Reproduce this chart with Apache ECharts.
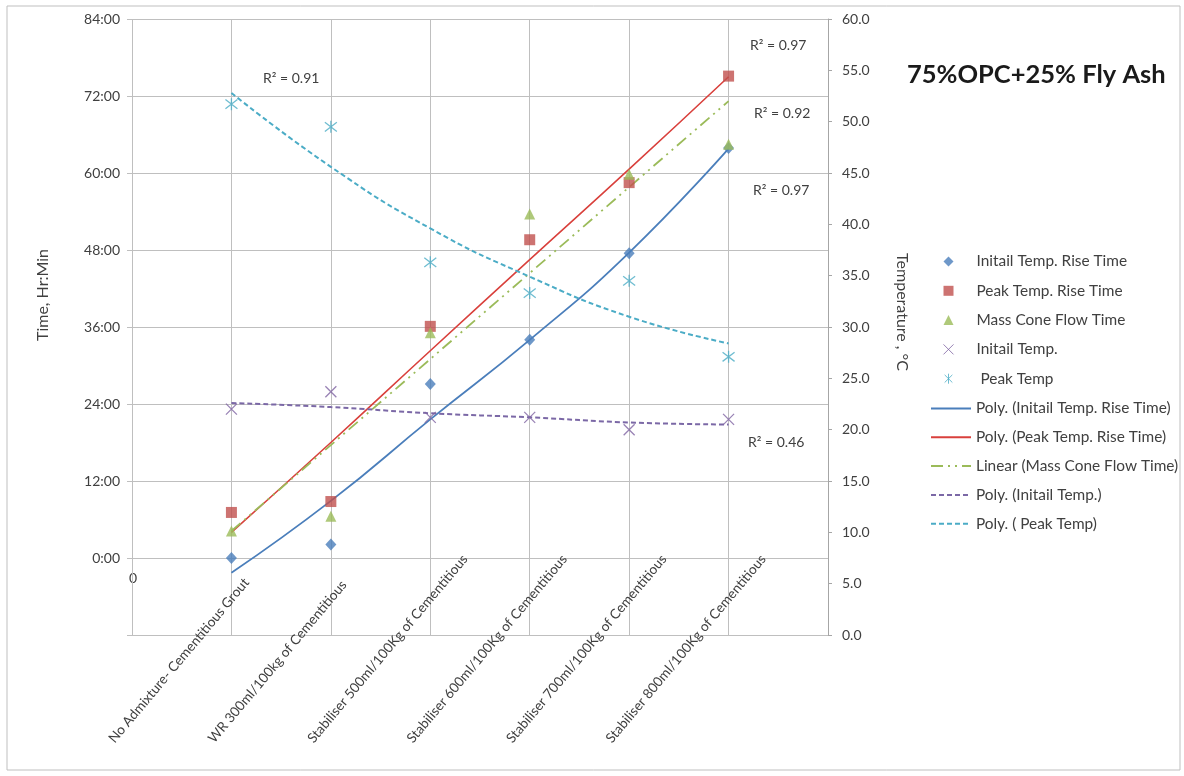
<!DOCTYPE html>
<html><head><meta charset="utf-8">
<script src="https://cdn.jsdelivr.net/npm/echarts@6/dist/echarts.min.js"></script>
<style>html,body{margin:0;padding:0;background:#fff}#c{width:1184px;height:776px}</style>
</head><body><div id="c"></div>
<script>
const categories = ['No Admixture- Cementitious Grout','WR 300ml/100kg of Cementitious','Stabiliser 500ml/100Kg of Cementitious','Stabiliser 600ml/100Kg of Cementitious','Stabiliser 700ml/100Kg of Cementitious','Stabiliser 800ml/100Kg of Cementitious'];
// times in hours (left axis)
const initialRiseTime = [0.0, 2.1, 27.1, 34.0, 47.5, 63.9];
const peakRiseTime = [7.1, 8.8, 36.1, 49.6, 58.5, 75.1];
const massConeFlow = [4.2, 6.5, 35.1, 53.6, 59.8, 64.5];
// temperatures in °C (right axis)
const initialTemp = [22.0, 23.7, 21.2, 21.2, 20.0, 21.0];
const peakTemp = [51.7, 49.5, 36.3, 33.3, 34.5, 27.1];
// trend lines at each category
const trendInitialRise = [-2.3, 8.9, 21.6, 34.0, 47.6, 63.8];
const trendPeakRise = [4.0, 18.0, 32.3, 46.5, 60.6, 75.0];
const trendMassCone = [4.2, 17.6, 31.0, 44.4, 57.8, 71.2];
const trendInitialTemp = [22.6, 22.2, 21.6, 21.2, 20.7, 20.5];
const trendPeakTemp = [52.8, 45.6, 39.6, 34.9, 31.0, 28.4];
// tick labels
const leftTicks = [-12, 0, 12, 24, 36, 48, 60, 72, 84];
const leftTickLabels = ['', '0:00', '12:00', '24:00', '36:00', '48:00', '60:00', '72:00', '84:00'];
const rightTicks = [0,5,10,15,20,25,30,35,40,45,50,55,60];
const rightTickLabels = ['0.0','5.0','10.0','15.0','20.0','25.0','30.0','35.0','40.0','45.0','50.0','55.0','60.0'];
const r2Labels = ['R² = 0.91','R² = 0.97','R² = 0.92','R² = 0.97','R² = 0.46'];

const FONT = 'Lato, "Open Sans", "Liberation Sans", sans-serif';
const TXT = '#404040';
const pad = a => ['-', ...a, '-'];
const xData = ['', ...categories, ''];

const X_PATH = 'path://M0,0L10,10M10,0L0,10';
const STAR_PATH = 'path://M0,0L10,10M10,0L0,10M5,-1.5L5,11.5';

const chart = echarts.init(document.getElementById('c'), null, {renderer: 'canvas'});

const scatterNames = ['Initail Temp. Rise Time','Peak Temp. Rise Time','Mass Cone Flow Time','Initail Temp.',' Peak Temp'];
const lineNames = ['Poly. (Initail Temp. Rise Time)','Poly. (Peak Temp. Rise Time)','Linear (Mass Cone Flow Time)','Poly. (Initail Temp.)','Poly. ( Peak Temp)'];

const option = {
  animation: false,
  backgroundColor: '#fff',
  textStyle: {fontFamily: FONT},
  grid: [
    {left: 132, right: 356, top: 19, bottom: 141},
    {left: 12, right: 476, top: 19, bottom: 141}
  ],
  xAxis: [
    {type: 'category', gridIndex: 0, data: xData, boundaryGap: false,
     axisLine: {show: false}, axisTick: {show: false, interval: 0}, axisLabel: {show: false, interval: 0},
     splitLine: {show: true, interval: 0, lineStyle: {color: '#BFBFBF', width: 1}}},
    {type: 'category', gridIndex: 1, data: xData, boundaryGap: false,
     axisLine: {show: false}, axisTick: {show: false}, splitLine: {show: false},
     axisLabel: {show: true, interval: 0, rotate: 50, align: 'left', verticalAlign: 'middle',
       margin: 106, fontSize: 13.6, fontFamily: FONT, color: TXT}}
  ],
  yAxis: [
    {type: 'value', gridIndex: 0, min: -12, max: 84, interval: 12,
     axisLine: {show: false}, axisTick: {show: true, length: 5, lineStyle: {color: '#BFBFBF'}},
     splitLine: {show: true, lineStyle: {color: '#BFBFBF', width: 1}},
     axisLabel: {fontSize: 14, fontFamily: FONT, color: TXT, margin: 12,
       formatter: v => { const i = leftTicks.indexOf(v); return i >= 0 ? leftTickLabels[i] : ''; }}},
    {type: 'value', gridIndex: 0, position: 'right', min: 0, max: 60, interval: 5,
     axisLine: {show: true, lineStyle: {color: '#A6A6A6'}},
     axisTick: {show: true, length: 4, lineStyle: {color: '#A6A6A6'}},
     splitLine: {show: false},
     axisLabel: {fontSize: 14, fontFamily: FONT, color: TXT, margin: 14,
       formatter: v => { const i = rightTicks.indexOf(v); return i >= 0 ? rightTickLabels[i] : ''; }}},
    {type: 'value', gridIndex: 1, show: false, min: 0, max: 1}
  ],
  legend: [
    {data: scatterNames.map((n, i) => i >= 3 ? {name: n, itemStyle: {borderWidth: 1}} : n),
     orient: 'vertical', left: 938, top: 249, itemWidth: 10, itemHeight: 10, itemGap: 14.3,
     textStyle: {fontSize: 15.4, fontFamily: FONT, color: TXT, padding: [0, 0, 0, 18]}},
    {data: lineNames, orient: 'vertical', left: 925, top: 396, itemWidth: 40, itemHeight: 14, itemGap: 13.8,
     itemStyle: {opacity: 0},
     textStyle: {fontSize: 15.4, fontFamily: FONT, color: TXT}}
  ],
  series: [
    {name: lineNames[0], type: 'line', data: pad(trendInitialRise), xAxisIndex: 0, yAxisIndex: 0,
     smooth: true, symbol: 'none', z: 2, lineStyle: {color: '#4A7EBB', width: 1.8}, itemStyle: {color: '#4A7EBB'}},
    {name: lineNames[1], type: 'line', data: pad(trendPeakRise), xAxisIndex: 0, yAxisIndex: 0,
     smooth: true, symbol: 'none', z: 2, lineStyle: {color: '#D9403C', width: 1.6}, itemStyle: {color: '#D9403C'}},
    {name: lineNames[2], type: 'line', data: pad(trendMassCone), xAxisIndex: 0, yAxisIndex: 0,
     symbol: 'none', z: 2, lineStyle: {color: '#9BBB59', width: 1.8, type: [12, 5, 2, 5, 2, 5]}, itemStyle: {color: '#9BBB59'}},
    {name: lineNames[3], type: 'line', data: pad(trendInitialTemp), xAxisIndex: 0, yAxisIndex: 1,
     smooth: true, symbol: 'none', z: 2, lineStyle: {color: '#7B68A6', width: 2, type: [5, 3]}, itemStyle: {color: '#7B68A6'}},
    {name: lineNames[4], type: 'line', data: pad(trendPeakTemp), xAxisIndex: 0, yAxisIndex: 1,
     smooth: true, symbol: 'none', z: 2, lineStyle: {color: '#4BACC6', width: 2, type: [5, 3]}, itemStyle: {color: '#4BACC6'}},

    {name: scatterNames[0], type: 'scatter', data: pad(initialRiseTime), xAxisIndex: 0, yAxisIndex: 0,
     symbol: 'diamond', symbolSize: [11, 12], z: 5, itemStyle: {color: '#4A7EBB'}},
    {name: scatterNames[1], type: 'scatter', data: pad(peakRiseTime), xAxisIndex: 0, yAxisIndex: 0,
     symbol: 'rect', symbolSize: 11, z: 5, itemStyle: {color: '#C0504D'}},
    {name: scatterNames[2], type: 'scatter', data: pad(massConeFlow), xAxisIndex: 0, yAxisIndex: 0,
     symbol: 'triangle', symbolSize: 11, z: 5, itemStyle: {color: '#9BBB59'}},
    {name: scatterNames[3], type: 'scatter', data: pad(initialTemp), xAxisIndex: 0, yAxisIndex: 1,
     symbol: X_PATH, symbolSize: 11, z: 5, itemStyle: {color: '#8064A2', borderColor: '#8064A2', borderWidth: 1.3}},
    {name: scatterNames[4], type: 'scatter', data: pad(peakTemp), xAxisIndex: 0, yAxisIndex: 1,
     symbol: STAR_PATH, symbolSize: 12, z: 5, itemStyle: {color: '#4BACC6', borderColor: '#4BACC6', borderWidth: 1.3}}
  ],
  graphic: [
    {type: 'rect', shape: {x: 7, y: 6, width: 1173, height: 764}, silent: true, z: -1,
     style: {fill: 'none', stroke: '#BFBFBF', lineWidth: 1}},
    {type: 'text', x: 133, y: 578, style: {text: '0', fontSize: 14, fontFamily: FONT, fill: TXT, align: 'center', verticalAlign: 'middle'}},
    {type: 'text', x: 43, y: 295, rotation: Math.PI / 2,
     style: {text: 'Time, Hr:Min', fontSize: 16, fontFamily: FONT, fill: TXT, align: 'center', verticalAlign: 'middle'}},
    {type: 'text', x: 902, y: 312, rotation: -Math.PI / 2,
     style: {text: 'Temperature , °C', fontSize: 16, fontFamily: FONT, fill: TXT, align: 'center', verticalAlign: 'middle'}},
    {type: 'text', x: 907, y: 75,
     style: {text: '75%OPC+25% Fly Ash', fontSize: 25.5, fontWeight: 'bold', fontFamily: FONT, fill: '#1a1a1a', align: 'left', verticalAlign: 'middle'}},
    {type: 'text', x: 263, y: 78, style: {text: r2Labels[0], fontSize: 14, fontFamily: FONT, fill: TXT, align: 'left', verticalAlign: 'middle'}},
    {type: 'text', x: 750, y: 45, style: {text: r2Labels[1], fontSize: 14, fontFamily: FONT, fill: TXT, align: 'left', verticalAlign: 'middle'}},
    {type: 'text', x: 754, y: 113, style: {text: r2Labels[2], fontSize: 14, fontFamily: FONT, fill: TXT, align: 'left', verticalAlign: 'middle'}},
    {type: 'text', x: 753, y: 190, style: {text: r2Labels[3], fontSize: 14, fontFamily: FONT, fill: TXT, align: 'left', verticalAlign: 'middle'}},
    {type: 'text', x: 748, y: 442, style: {text: r2Labels[4], fontSize: 14, fontFamily: FONT, fill: TXT, align: 'left', verticalAlign: 'middle'}}
  ]
};
chart.setOption(option);
</script>
</body></html>
